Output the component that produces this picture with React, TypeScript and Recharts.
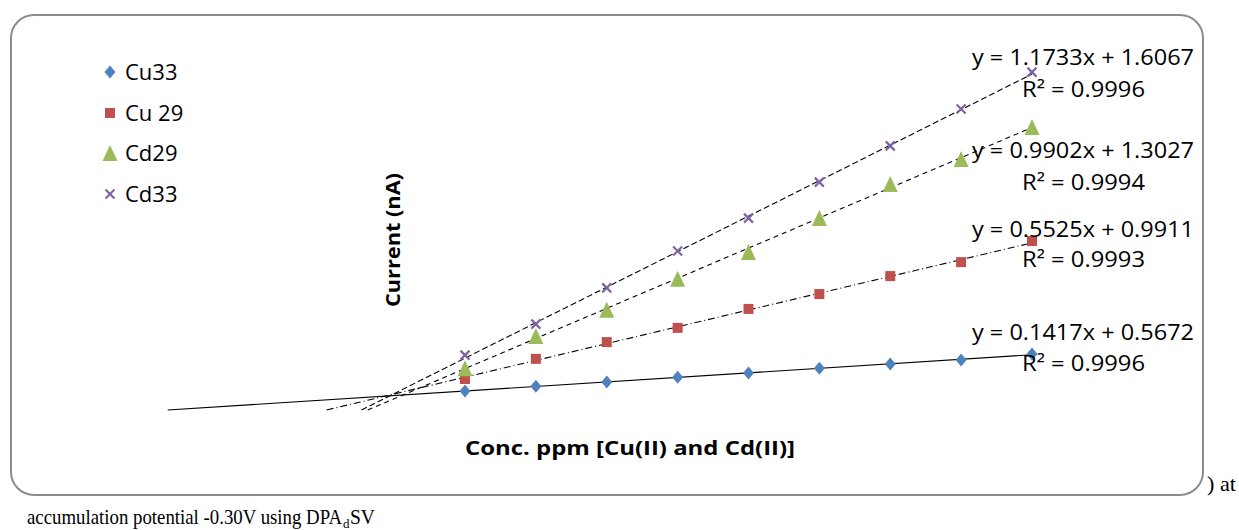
import React from "react";
import { ScatterChart, Scatter, XAxis, YAxis, ReferenceLine } from "recharts";

// concentration steps (hidden axis) and peak currents
const concentrations = [1, 2, 3, 4, 5, 6, 7, 8, 9];
const cu33 = [0.61, 0.77, 0.9, 1.06, 1.19, 1.35, 1.48, 1.61, 1.81];
const cu29 = [1.0, 1.65, 2.19, 2.65, 3.26, 3.74, 4.32, 4.77, 5.45];
const cd29 = [1.35, 2.39, 3.23, 4.23, 5.1, 6.19, 7.29, 8.1, 9.13];
const cd33 = [1.77, 2.77, 3.94, 5.13, 6.19, 7.35, 8.52, 9.71, 10.9];

const seriesNames = ["Cu33", "Cu 29", "Cd29", "Cd33"];
const equations = [
  "y = 0.1417x + 0.5672",
  "y = 0.5525x + 0.9911",
  "y = 0.9902x + 1.3027",
  "y = 1.1733x + 1.6067",
];
const rSquared = ["R² = 0.9996", "R² = 0.9993", "R² = 0.9994", "R² = 0.9996"];

const FONT = "'Open Sans', sans-serif";
const SERIF = "'Liberation Serif', serif";

type Marker = "diamond" | "square" | "triangle" | "x";

const styles: { color: string; marker: Marker; dash?: string; eqY: number; r2Y: number; legendY: number }[] = [
  { color: "#4f81bd", marker: "diamond", dash: undefined, eqY: 340, r2Y: 371, legendY: 80 },
  { color: "#c0504d", marker: "square", dash: "7 3 1 3", eqY: 237, r2Y: 267, legendY: 121 },
  { color: "#9bbb59", marker: "triangle", dash: "5 4", eqY: 158, r2Y: 190, legendY: 161 },
  { color: "#8064a2", marker: "x", dash: "6 3", eqY: 65, r2Y: 97, legendY: 202 },
];

const allSeries = [cu33, cu29, cd29, cd33];

function drawMarker(kind: Marker, cx: number, cy: number, color: string) {
  if (kind === "diamond")
    return <polygon points={`${cx},${cy - 6.5} ${cx + 5.5},${cy} ${cx},${cy + 6.5} ${cx - 5.5},${cy}`} fill={color} />;
  if (kind === "square") return <rect x={cx - 5} y={cy - 5} width={10} height={10} fill={color} />;
  if (kind === "triangle")
    return <polygon points={`${cx},${cy - 8} ${cx + 7.5},${cy + 8} ${cx - 7.5},${cy + 8}`} fill={color} />;
  return (
    <g stroke={color} strokeWidth={2.2}>
      <line x1={cx - 4.5} y1={cy - 4.5} x2={cx + 4.5} y2={cy + 4.5} />
      <line x1={cx - 4.5} y1={cy + 4.5} x2={cx + 4.5} y2={cy - 4.5} />
    </g>
  );
}

// least squares fit, extended back to zero current like the standard addition plot
function trend(values: number[]) {
  const n = values.length;
  const mx = concentrations.reduce((a, b) => a + b, 0) / n;
  const my = values.reduce((a, b) => a + b, 0) / n;
  let sxy = 0;
  let sxx = 0;
  concentrations.forEach((x, i) => {
    sxy += (x - mx) * (values[i] - my);
    sxx += (x - mx) * (x - mx);
  });
  const m = sxy / sxx;
  const b = my - m * mx;
  const xEnd = concentrations[n - 1];
  return [
    { x: -b / m, y: 0 },
    { x: xEnd, y: m * xEnd + b },
  ];
}

export default function App() {
  return (
    <div style={{ position: "absolute", left: 0, top: 0, width: 1239, height: 530, background: "#fff" }}>
      <svg width={1239} height={530} style={{ position: "absolute", left: 0, top: 0 }}>
        <text x={1207} y={491} fontFamily={SERIF} fontSize={21} textLength={29} lengthAdjust="spacingAndGlyphs">
          ) at
        </text>
        <text x={27} y={524} fontFamily={SERIF} fontSize={21} textLength={315} lengthAdjust="spacingAndGlyphs">
          accumulation potential  -0.30V using DPA
        </text>
        <text x={343} y={528} fontFamily={SERIF} fontSize={13}>
          d
        </text>
        <text x={350} y={524} fontFamily={SERIF} fontSize={21} textLength={25} lengthAdjust="spacingAndGlyphs">
          SV
        </text>
      </svg>
      <div
        style={{
          position: "absolute",
          left: 10,
          top: 14,
          width: 1194,
          height: 482,
          boxSizing: "border-box",
          border: "2px solid #8c8c8c",
          borderRadius: 24,
          background: "#fff",
        }}
      />
      <div style={{ position: "absolute", left: 0, top: 0 }}>
        <ScatterChart width={1239} height={530} margin={{ top: 38, right: 136.125, bottom: 120, left: 110.625 }}>
          <XAxis type="number" dataKey="x" domain={[-4, 10]} hide allowDataOverflow />
          <YAxis type="number" dataKey="y" domain={[0, 12]} hide allowDataOverflow />
          {allSeries.map((vals, i) => (
            <Scatter
              key={seriesNames[i]}
              name={seriesNames[i]}
              data={concentrations.map((x, k) => ({ x, y: vals[k] }))}
              isAnimationActive={false}
              shape={(p: any) => drawMarker(styles[i].marker, p.cx, p.cy, styles[i].color)}
            />
          ))}
          {allSeries.map((vals, i) => (
            <ReferenceLine
              key={"t" + i}
              segment={trend(vals)}
              stroke="#000"
              strokeWidth={1.1}
              strokeDasharray={styles[i].dash}
              ifOverflow="visible"
            />
          ))}
        </ScatterChart>
      </div>
      <svg width={1239} height={530} style={{ position: "absolute", left: 0, top: 0, pointerEvents: "none" }}>
        {seriesNames.map((name, i) => (
          <g key={name}>
            {drawMarker(styles[i].marker, 110, styles[i].legendY - 8, styles[i].color)}
            <text x={125} y={styles[i].legendY} fontFamily={FONT} fontSize={22} fill="#000">
              {name}
            </text>
          </g>
        ))}
        {equations.map((eq, i) => (
          <g key={eq} fontFamily={FONT} fontSize={22} fill="#000">
            <text x={972} y={styles[i].eqY} textLength={222} lengthAdjust="spacingAndGlyphs">
              {eq}
            </text>
            <text x={1022} y={styles[i].r2Y} textLength={123} lengthAdjust="spacingAndGlyphs">
              {rSquared[i]}
            </text>
          </g>
        ))}
        <text
          x={465}
          y={455}
          fontFamily={FONT}
          fontWeight="bold"
          fontSize={19}
          textLength={330}
          lengthAdjust="spacingAndGlyphs"
        >
          Conc. ppm [Cu(II) and Cd(II)]
        </text>
        <text
          transform="translate(400, 307) rotate(-90)"
          fontFamily={FONT}
          fontWeight="bold"
          fontSize={19}
          textLength={134}
          lengthAdjust="spacingAndGlyphs"
        >
          Current (nA)
        </text>
      </svg>
    </div>
  );
}
